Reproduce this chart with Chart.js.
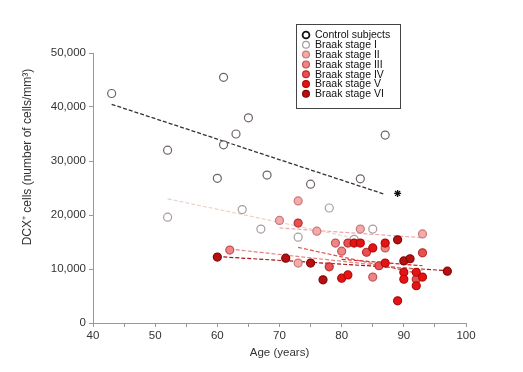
<!DOCTYPE html>
<html><head><meta charset="utf-8">
<script src="https://cdn.jsdelivr.net/npm/chart.js@4"></script>
<style>html,body{margin:0;padding:0;background:#fff}#wrap{width:523px;height:372px;position:relative}</style>
</head><body><div id="wrap"><canvas id="c" width="523" height="372"></canvas></div>
<script>
// ---- data ----
const controlAge   = [43, 52, 60, 61, 61, 63, 65, 68, 75, 83, 87];
const controlCells = [42500, 32000, 26800, 45500, 33000, 35000, 38000, 27400, 25700, 26700, 34800];
const stage1Age    = [52, 64, 67, 73, 78, 82, 85];
const stage1Cells  = [19600, 21000, 17400, 15900, 21300, 15500, 17400];
const stage2Age    = [70, 73, 73, 76, 83, 93];
const stage2Cells  = [19000, 22600, 11100, 17000, 17400, 16500];
const stage3Age    = [62, 79, 80, 85, 87];
const stage3Cells  = [13500, 14800, 13300, 8500, 13900];
const stage4Age    = [73, 78, 81, 84, 86, 92, 93];
const stage4Cells  = [18500, 10400, 14800, 13100, 10600, 8100, 13000];
const stage5Age    = [80, 81, 82, 83, 85, 87, 87, 89, 90, 90, 92, 92, 93];
const stage5Cells  = [8300, 8900, 14800, 14800, 13900, 14800, 11100, 4100, 9400, 8100, 9400, 6900, 8500];
const stage6Age    = [60, 71, 75, 77, 89, 90, 91, 97];
const stage6Cells  = [12200, 12000, 11100, 8000, 15400, 11500, 11900, 9600];

// regression line end points
const fitControlAge = [43, 87];  const fitControlCells = [40500, 23800];
const fit1Age = [52, 85];        const fit1Cells = [23000, 15000];
const fit2Age = [70, 93];        const fit2Cells = [17600, 15800];
const fit3Age = [62, 93];        const fit3Cells = [13700, 9800];
const fit4Age = [73, 93];        const fit4Cells = [14000, 9000];
const fit5Age = [80, 93];        const fit5Cells = [11800, 10600];
const fit6Age = [60, 97];        const fit6Cells = [12300, 9700];

const starAge = [89]; const starCells = [24000];

const groupLabels = ['Control subjects','Braak stage I','Braak stage II','Braak stage III','Braak stage IV','Braak stage V','Braak stage VI'];
const xTicks = [40, 50, 60, 70, 80, 90, 100];
const yTicks = [0, 10000, 20000, 30000, 40000, 50000];
const xTitle = 'Age (years)';
const yTitle = 'DCX⁺ cells (number of cells/mm³)';

// ---- styles ----
const fills   = ['#ffffff','#ffffff','#f5aaaa','#f08585','#ea5050','#e41414','#b81010'];
const borders = ['#6e6464','#a89c9c','#c87878','#c05555','#b83030','#b00a0a','#800808'];
const lineCols= ['#333333','#ead2c8','#f0a8a8','#e88080','#e05050','#d02020','#a81515'];

const pts = (xs, ys) => xs.map((x, i) => ({x, y: ys[i]}));
const groupsAge   = [controlAge, stage1Age, stage2Age, stage3Age, stage4Age, stage5Age, stage6Age];
const groupsCells = [controlCells, stage1Cells, stage2Cells, stage3Cells, stage4Cells, stage5Cells, stage6Cells];
const fitsAge     = [fitControlAge, fit1Age, fit2Age, fit3Age, fit4Age, fit5Age, fit6Age];
const fitsCells   = [fitControlCells, fit1Cells, fit2Cells, fit3Cells, fit4Cells, fit5Cells, fit6Cells];

const datasets = [];
fitsAge.forEach((xs, i) => {
  datasets.push({
    type: 'line', label: groupLabels[i] + ' fit', data: pts(xs, fitsCells[i]),
    borderColor: lineCols[i], borderWidth: i === 0 ? 1.3 : 1.2, borderDash: [4, 2],
    pointRadius: 0, fill: false, order: 10
  });
});
groupsAge.forEach((xs, i) => {
  datasets.push({
    type: 'scatter', label: groupLabels[i], data: pts(xs, groupsCells[i]),
    backgroundColor: fills[i], borderColor: borders[i], borderWidth: 1.2,
    pointRadius: 4, order: 7 - i, isGroup: true
  });
});
datasets.push({
  type: 'scatter', label: 'significance', data: pts(starAge, starCells),
  pointStyle: 'star', pointRadius: 3.5, borderColor: '#111', borderWidth: 1.3, order: 0
});

const FONT = "'Liberation Sans', Arial, sans-serif";

const extrasPlugin = {
  id: 'extras',
  afterDraw(chart) {
    const ctx = chart.ctx;
    // y-axis title
    ctx.save();
    ctx.translate(28, 157);
    ctx.rotate(-Math.PI / 2);
    ctx.font = '12px ' + FONT;
    ctx.fillStyle = '#333';
    ctx.textAlign = 'center';
    ctx.textBaseline = 'middle';
    ctx.fillText(yTitle, 0, 0);
    ctx.restore();
    // legend box
    const x0 = 296, y0 = 24, w = 104, h = 84;
    ctx.save();
    ctx.fillStyle = '#fff';
    ctx.fillRect(x0, y0, w, h);
    ctx.strokeStyle = '#444'; ctx.lineWidth = 1;
    ctx.strokeRect(x0 + 0.5, y0 + 0.5, w, h);
    ctx.font = '10.5px ' + FONT;
    ctx.textBaseline = 'middle';
    chart.data.datasets.filter(d => d.isGroup).forEach((d, i) => {
      const cy = y0 + 11 + i * 9.8;
      ctx.beginPath();
      ctx.arc(x0 + 10, cy, 3.4, 0, Math.PI * 2);
      ctx.fillStyle = d.backgroundColor; ctx.fill();
      ctx.lineWidth = i === 0 ? 1.8 : 1.2;
      ctx.strokeStyle = i === 0 ? '#111' : d.borderColor; ctx.stroke();
      ctx.fillStyle = '#111';
      ctx.fillText(d.label, x0 + 19, cy + 0.5);
    });
    ctx.restore();
  }
};

new Chart(document.getElementById('c'), {
  data: { datasets },
  options: {
    responsive: false, animation: false,
    layout: { padding: { left: 0, right: 57, top: 53, bottom: 0 } },
    plugins: { legend: { display: false }, tooltip: { enabled: false } },
    scales: {
      x: {
        type: 'linear', min: 40, max: 100,
        afterFit: s => { s.height = 49; },
        afterBuildTicks: s => { const t = []; for (let v = 40; v <= 100; v += 5) t.push({value: v}); s.ticks = t; },
        ticks: { callback: v => xTicks.includes(v) ? String(v) : '', color: '#333', font: { size: 11.5, family: FONT }, padding: 2, maxRotation: 0, autoSkip: false },
        grid: { display: true, drawOnChartArea: false, drawTicks: true, tickLength: 4, color: '#999' },
        border: { display: true, color: '#999', width: 1 },
        title: { display: true, text: xTitle, color: '#333', font: { size: 11.5, family: FONT }, padding: { top: 2, bottom: 12 } }
      },
      y: {
        type: 'linear', min: 0, max: 50000,
        afterFit: s => { s.width = 93; },
        afterBuildTicks: s => { s.ticks = yTicks.map(v => ({value: v})); },
        ticks: { callback: v => v.toLocaleString('en-US'), color: '#333', font: { size: 11.5, family: FONT }, padding: 3 },
        grid: { display: true, drawOnChartArea: false, drawTicks: true, tickLength: 4, color: '#999' },
        border: { display: true, color: '#999', width: 1 }
      }
    }
  },
  plugins: [extrasPlugin]
});
</script></body></html>
